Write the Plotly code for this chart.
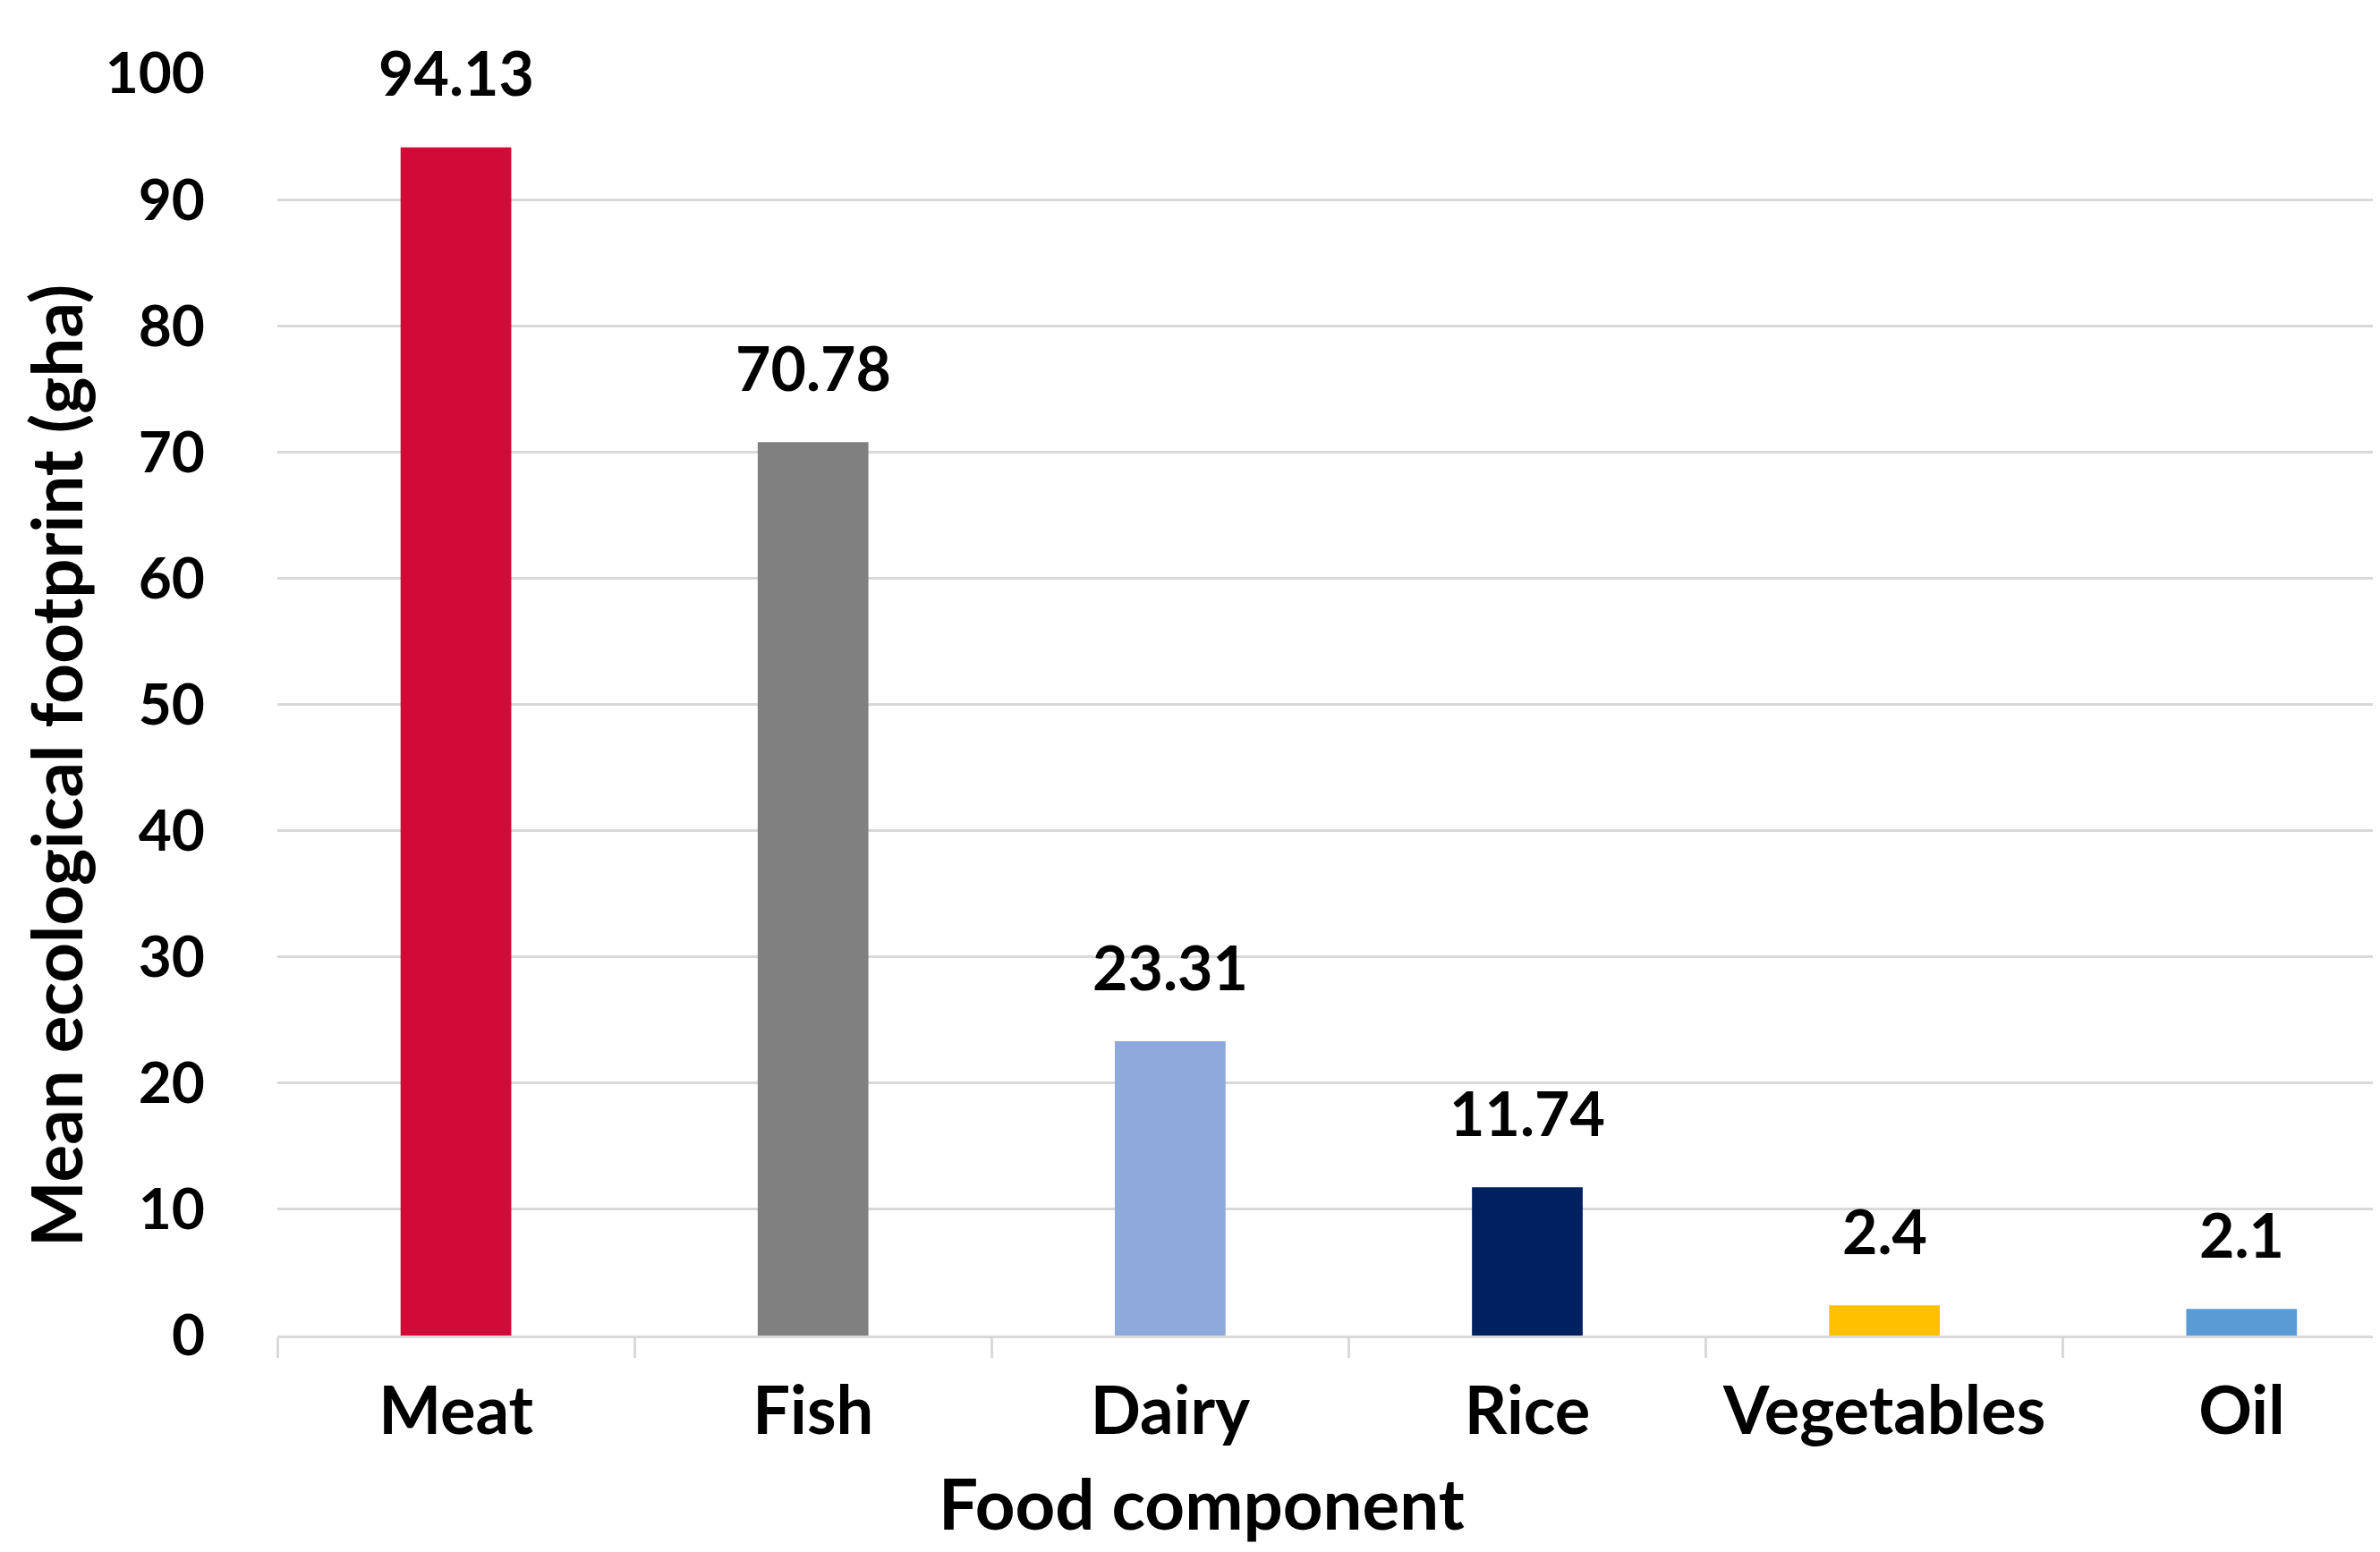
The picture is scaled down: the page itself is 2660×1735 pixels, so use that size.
import plotly.graph_objects as go

# food components and their mean ecological footprint (gha)
components = ["Meat", "Fish", "Dairy", "Rice", "Vegetables", "Oil"]
footprint = [94.13, 70.78, 23.31, 11.74, 2.4, 2.1]
bar_colors = ["#D20A38", "#808080", "#8EA9DB", "#002060", "#FFC000", "#5B9BD5"]
y_ticks = [0, 10, 20, 30, 40, 50, 60, 70, 80, 90, 100]

W, H = 2660, 1735
L, R, T, B = 302, 15, 74, 250
FONT = "Lato"

fig = go.Figure()
fig.add_trace(go.Bar(
	x=components,
	y=footprint,
	marker=dict(color=bar_colors, line=dict(width=0)),
	width=0.31,
	hoverinfo="x+y",
))

# value labels above bars
for c, v in zip(components, footprint):
	fig.add_annotation(
		x=c, y=v, text="<b>%s</b>" % v, showarrow=False,
		yshift=84, yanchor="middle", font=dict(family=FONT, size=68, color="black"),
	)

pw = W - L - R
ph = H - T - B
# axis titles placed in pixels
fig.add_annotation(
	xref="paper", yref="paper", x=(1335 - L) / pw, y=-(1672 - (H - B)) / ph,
	xanchor="center", yanchor="middle",
	text="<b>Food component</b>", showarrow=False,
	font=dict(family=FONT, size=78, color="black"),
)
fig.add_annotation(
	xref="paper", yref="paper", x=(54 - L) / pw, y=((H - B) - 848) / ph,
	xanchor="center", yanchor="middle",
	text="<b>Mean ecological footprint (gha)</b>", showarrow=False, textangle=-90,
	font=dict(family=FONT, size=78, color="black"),
)

fig.update_layout(
	width=W, height=H,
	margin=dict(l=L, r=R, t=T, b=B),
	plot_bgcolor="white", paper_bgcolor="white",
	showlegend=False,
	font=dict(family=FONT, color="black"),
	xaxis=dict(
		range=[-0.5, 5.37],
		showline=True, linecolor="#D9D9D9", linewidth=3,
		ticks="outside", tickson="boundaries", ticklen=22, tickwidth=3, tickcolor="#D9D9D9",
		tickfont=dict(family=FONT, size=74, color="black", weight="bold"),
		ticklabelstandoff=18,
		showgrid=False, zeroline=False,
	),
	yaxis=dict(
		range=[0, 100], tickvals=y_ticks,
		showgrid=True, gridcolor="#D9D9D9", gridwidth=3,
		zeroline=False, showline=False, ticks="",
		tickfont=dict(family=FONT, size=64, color="black", weight="bold"),
		ticklabelstandoff=80,
	),
)

fig.write_html("out.html")
